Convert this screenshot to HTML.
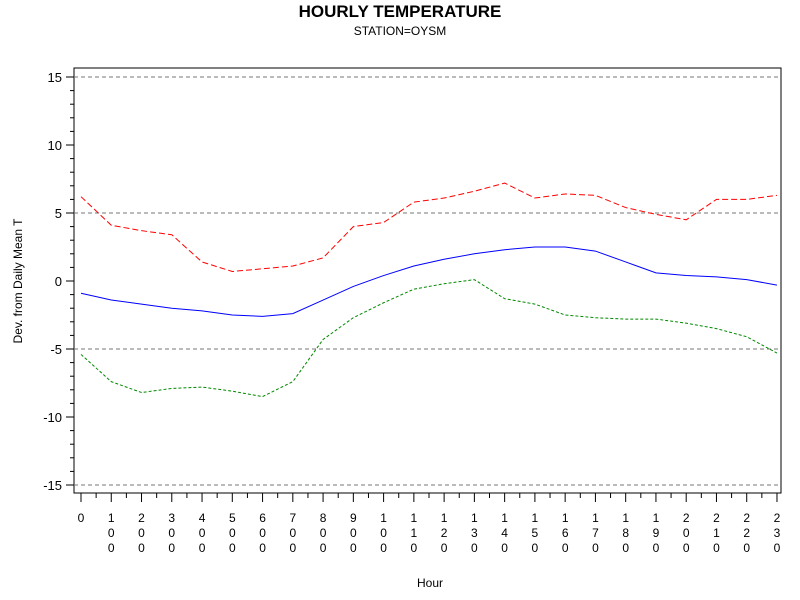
<!DOCTYPE html>
<html><head><style>body{margin:0;background:#fff}svg{display:block}text{font-family:"Liberation Sans",sans-serif;fill:#000}</style></head>
<body>
<svg id="s" width="800" height="600" xmlns="http://www.w3.org/2000/svg">
<text x="400" y="17" text-anchor="middle" font-size="17" font-weight="bold">HOURLY TEMPERATURE</text>
<text x="400" y="35" text-anchor="middle" font-size="12">STATION=OYSM</text>
<text x="430" y="587" text-anchor="middle" font-size="12">Hour</text>
<text transform="translate(22,281) rotate(-90)" text-anchor="middle" font-size="12">Dev. from Daily Mean T</text>
<rect x="74" y="68" width="707" height="425" fill="none" stroke="#000" stroke-width="1"/>
<g id="g"></g>
</svg>
<script>
var g=document.getElementById('g'),h='';
function Y(v){return 281-v*13.6}function X(i){return 81+i*30.26}
[15,5,-5,-15].forEach(function(v){h+='<line x1="74" x2="781" y1="'+Y(v)+'" y2="'+Y(v)+'" stroke="#777" stroke-dasharray="4,3"/>'});
for(var v=-16;v<=15;v++){var y=Y(v);if(y>493)continue;var maj=v%5==0;h+='<line x1="'+(maj?66:70)+'" x2="74" y1="'+y+'" y2="'+y+'" stroke="#000"/>';if(maj)h+='<text x="62" y="'+(y+5)+'" text-anchor="end" font-size="13">'+v+'</text>';}
for(var i=0;i<24;i++){var x=X(i);h+='<line x1="'+x+'" x2="'+x+'" y1="493" y2="502" stroke="#000"/>';if(i<23)h+='<line x1="'+(x+15.13)+'" x2="'+(x+15.13)+'" y1="493" y2="498" stroke="#000"/>';var s=(i==0?'0':String(i*100)).slice(0,3);for(var k=0;k<s.length;k++)h+='<text x="'+x+'" y="'+(522+k*15)+'" text-anchor="middle" font-size="12">'+s[k]+'</text>';}
var R=[6.2,4.1,3.7,3.4,1.4,0.7,0.9,1.1,1.7,4.0,4.3,5.8,6.1,6.6,7.2,6.1,6.4,6.3,5.4,4.9,4.5,6.0,6.0,6.3],
B=[-0.9,-1.4,-1.7,-2.0,-2.2,-2.5,-2.6,-2.4,-1.4,-0.4,0.4,1.1,1.6,2.0,2.3,2.5,2.5,2.2,1.4,0.6,0.4,0.3,0.1,-0.3],
G=[-5.4,-7.4,-8.2,-7.9,-7.8,-8.1,-8.5,-7.4,-4.3,-2.7,-1.6,-0.6,-0.2,0.1,-1.3,-1.7,-2.5,-2.7,-2.8,-2.8,-3.1,-3.5,-4.1,-5.3];
function P(d,c,da){return '<polyline fill="none" stroke="'+c+'" stroke-width="1"'+(da?' stroke-dasharray="'+da+'"':'')+' points="'+d.map(function(v,i){return X(i)+','+Y(v)}).join(' ')+'"/>'}
h+=P(R,'#f00','6,3')+P(B,'#00f','')+P(G,'#080','3,2');
g.innerHTML=h;
</script>
</body></html>
